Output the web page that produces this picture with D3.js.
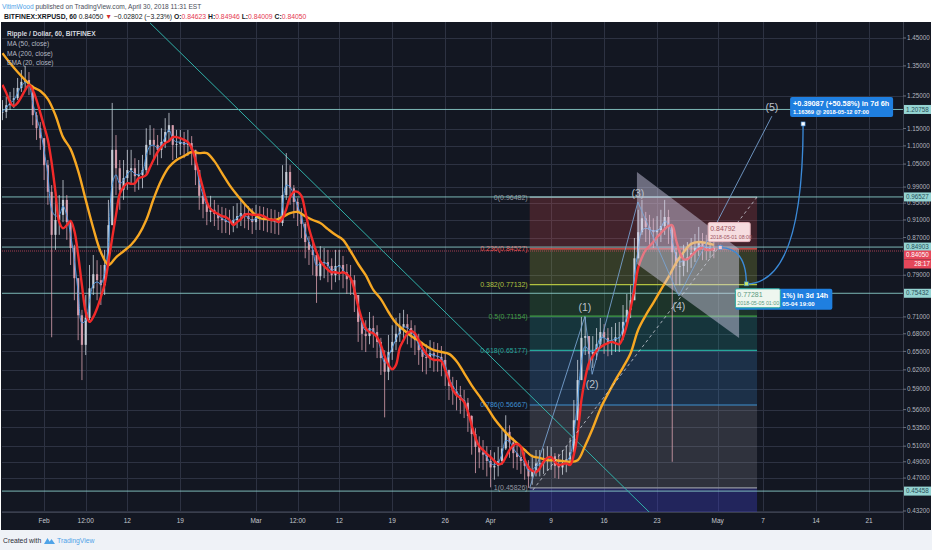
<!DOCTYPE html>
<html><head><meta charset="utf-8">
<script src="https://cdn.jsdelivr.net/npm/d3@7/dist/d3.min.js"></script>
<style>
html,body{margin:0;padding:0;background:#fff;}
svg{display:block;font-family:"Liberation Sans",Arial,sans-serif;}
</style></head><body>
<svg id="chart" width="932" height="550"></svg>
<script>
// ================= DATA =================
// 12-hour candles starting 2018-01-26 12:00 UTC
const candleStart = "2018-01-26T12:00:00Z";
const candleHours = 12;
const closes = [1.200,1.221,1.237,1.243,1.276,1.296,1.302,1.282,1.190,1.151,
1.122,1.047,0.978,0.876,0.910,0.922,0.958,0.905,0.847,0.784,
0.713,0.661,0.708,0.764,0.792,0.780,0.770,0.811,0.898,1.089,
1.039,0.983,1.013,1.034,1.039,1.018,1.021,1.034,1.103,1.117,
1.103,1.089,1.111,1.140,1.160,1.103,1.105,1.111,1.103,1.108,
1.089,1.034,0.968,0.948,0.929,0.934,0.924,0.914,0.910,0.905,
0.903,0.910,0.919,0.926,0.919,0.912,0.905,0.917,0.914,0.912,
0.910,0.908,0.905,0.903,0.970,1.029,0.987,0.953,0.926,0.901,
0.860,0.843,0.832,0.788,0.817,0.817,0.809,0.790,0.809,0.811,
0.796,0.782,0.780,0.751,0.701,0.680,0.676,0.690,0.683,0.666,
0.639,0.617,0.649,0.666,0.680,0.692,0.697,0.690,0.680,0.669,
0.652,0.641,0.639,0.647,0.642,0.641,0.636,0.620,0.595,0.587,
0.581,0.574,0.570,0.551,0.526,0.509,0.502,0.499,0.491,0.483,
0.485,0.491,0.507,0.529,0.515,0.501,0.496,0.491,0.485,0.472,
0.480,0.488,0.488,0.491,0.495,0.497,0.485,0.483,0.488,0.493,
0.502,0.545,0.604,0.673,0.676,0.646,0.649,0.662,0.683,0.673,
0.666,0.668,0.674,0.674,0.701,0.723,0.741,0.825,0.882,0.914,
0.894,0.887,0.882,0.887,0.896,0.917,0.896,0.838,0.809,0.809,
0.821,0.827,0.836,0.847,0.860,0.849,0.847,0.847,0.8405];
const highs = [1.237,1.247,1.263,1.276,1.309,1.336,1.350,1.329,1.286,1.200,
1.169,1.117,1.061,0.995,0.958,0.970,1.008,0.970,0.910,0.854,
0.780,0.723,0.751,0.811,0.832,0.821,0.811,0.843,0.958,1.228,
1.131,1.061,1.061,1.089,1.089,1.066,1.061,1.075,1.151,1.160,
1.151,1.131,1.151,1.181,1.197,1.151,1.146,1.146,1.140,1.146,
1.128,1.089,1.029,0.983,0.962,0.968,0.958,0.946,0.941,0.938,
0.934,0.943,0.950,0.958,0.950,0.943,0.938,0.946,0.943,0.941,
0.938,0.936,0.934,0.929,1.047,1.080,1.047,0.995,0.962,0.938,
0.905,0.873,0.865,0.832,0.851,0.847,0.843,0.825,0.843,0.843,
0.830,0.813,0.811,0.790,0.745,0.708,0.704,0.719,0.712,0.695,
0.673,0.652,0.678,0.695,0.708,0.717,0.723,0.715,0.704,0.695,
0.680,0.666,0.662,0.669,0.666,0.664,0.659,0.646,0.620,0.609,
0.604,0.595,0.589,0.577,0.552,0.534,0.523,0.518,0.510,0.505,
0.502,0.509,0.532,0.552,0.538,0.521,0.514,0.509,0.502,0.492,
0.499,0.505,0.505,0.507,0.510,0.509,0.501,0.500,0.505,0.510,
0.521,0.574,0.636,0.710,0.710,0.673,0.676,0.690,0.708,0.697,
0.690,0.692,0.699,0.701,0.732,0.753,0.770,0.869,0.934,0.958,
0.929,0.922,0.914,0.919,0.934,0.958,0.934,0.891,0.847,0.843,
0.854,0.860,0.869,0.878,0.894,0.880,0.876,0.873,0.865];
const lows = [1.175,1.181,1.206,1.212,1.237,1.263,1.269,1.253,1.160,1.117,
1.089,1.008,0.946,0.674,0.843,0.876,0.905,0.865,0.811,0.741,
0.669,0.604,0.644,0.704,0.751,0.741,0.732,0.751,0.811,0.934,
0.970,0.934,0.958,0.983,0.995,0.978,0.983,0.987,1.021,1.075,
1.061,1.047,1.066,1.094,1.111,1.061,1.066,1.075,1.066,1.072,
1.047,0.995,0.934,0.914,0.898,0.905,0.896,0.887,0.880,0.880,
0.876,0.882,0.891,0.896,0.891,0.887,0.878,0.887,0.887,0.885,
0.882,0.880,0.878,0.876,0.896,0.958,0.946,0.914,0.896,0.869,
0.825,0.811,0.790,0.736,0.780,0.784,0.776,0.761,0.776,0.780,
0.764,0.753,0.751,0.719,0.666,0.652,0.649,0.662,0.656,0.639,
0.612,0.549,0.604,0.636,0.652,0.666,0.669,0.662,0.656,0.644,
0.628,0.617,0.613,0.623,0.617,0.617,0.610,0.595,0.574,0.567,
0.559,0.554,0.548,0.529,0.499,0.476,0.482,0.480,0.472,0.459,
0.468,0.472,0.486,0.505,0.495,0.482,0.480,0.475,0.468,0.4583,
0.462,0.472,0.472,0.475,0.479,0.480,0.470,0.469,0.474,0.477,
0.485,0.499,0.545,0.628,0.644,0.620,0.623,0.636,0.656,0.646,
0.642,0.644,0.649,0.649,0.669,0.694,0.708,0.761,0.832,0.876,
0.860,0.854,0.847,0.851,0.860,0.876,0.856,0.490,0.770,0.770,
0.788,0.796,0.805,0.817,0.830,0.821,0.821,0.825,0.825];
// MA(50) read on the 12-hour grid
const ma50 = [1.286,1.260,1.231,1.218,1.228,1.247,1.269,1.286,1.269,1.237,
1.197,1.157,1.117,1.053,0.978,0.905,0.891,0.898,0.908,0.885,
0.832,0.770,0.719,0.701,0.710,0.726,0.747,0.772,0.817,0.869,
0.922,0.973,0.990,1.000,0.998,1.000,1.013,1.016,1.021,1.042,
1.063,1.083,1.097,1.108,1.114,1.125,1.125,1.122,1.117,1.111,
1.094,1.061,1.024,0.987,0.953,0.936,0.929,0.924,0.919,0.917,
0.910,0.898,0.905,0.912,0.922,0.924,0.922,0.922,0.922,0.919,
0.914,0.910,0.910,0.905,0.914,0.936,0.965,0.978,0.978,0.968,
0.931,0.891,0.862,0.838,0.819,0.809,0.801,0.796,0.796,0.794,
0.796,0.792,0.784,0.761,0.730,0.706,0.690,0.683,0.681,0.674,
0.661,0.642,0.628,0.621,0.628,0.656,0.669,0.681,0.685,0.681,
0.669,0.656,0.646,0.639,0.636,0.636,0.634,0.620,0.604,0.590,
0.581,0.577,0.571,0.557,0.538,0.521,0.510,0.505,0.500,0.496,
0.491,0.487,0.488,0.496,0.505,0.511,0.513,0.509,0.493,0.483,
0.479,0.477,0.482,0.490,0.495,0.496,0.490,0.486,0.487,0.488,
0.486,0.499,0.527,0.574,0.607,0.631,0.642,0.651,0.657,0.661,
0.664,0.666,0.664,0.662,0.674,0.695,0.726,0.761,0.805,0.827,
0.843,0.851,0.860,0.871,0.880,0.889,0.896,0.898,0.865,0.838,
0.823,0.823,0.830,0.838,0.845,0.847,0.843,0.843,0.845];
// MA(200) read every 24 hours from the first candle
const ma200 = [1.395,1.360,1.329,1.302,1.279,1.266,1.240,1.190,1.125,1.091,
1.032,0.958,0.891,0.838,0.811,0.827,0.840,0.854,0.876,0.910,
0.962,1.008,1.042,1.061,1.072,1.083,1.080,1.080,1.058,1.026,
0.995,0.970,0.948,0.929,0.914,0.912,0.910,0.917,0.926,0.929,
0.919,0.910,0.903,0.889,0.876,0.865,0.840,0.813,0.790,0.761,
0.743,0.719,0.699,0.687,0.676,0.668,0.659,0.652,0.649,0.646,
0.634,0.615,0.596,0.580,0.564,0.547,0.534,0.523,0.514,0.505,
0.497,0.495,0.492,0.492,0.491,0.490,0.492,0.511,0.534,0.561,
0.583,0.604,0.624,0.647,0.687,0.713,0.736,0.761,0.786,0.815,
0.838,0.856,0.860,0.858,0.854];

const priceTicks = [1.45,1.35,1.25,1.15,1.10,1.05,0.99,0.95,0.91,0.87,0.79,0.71,0.68,0.65,0.62,0.59,0.56,0.535,0.51,0.49,0.47,0.432];
const timeTickDates = ["2018-02-01T00:00Z","2018-02-06T12:00Z","2018-02-12T00:00Z","2018-02-19T00:00Z","2018-03-01T00:00Z","2018-03-06T12:00Z","2018-03-12T00:00Z","2018-03-19T00:00Z","2018-03-26T00:00Z","2018-04-01T00:00Z","2018-04-09T00:00Z","2018-04-16T00:00Z","2018-04-23T00:00Z","2018-05-01T00:00Z","2018-05-07T00:00Z","2018-05-14T00:00Z","2018-05-21T00:00Z"];
const timeTickLabels = ["Feb","12:00","12","19","Mar","12:00","12","19","26","Apr","9","16","23","May","7","14","21"];

const levelPrices = [1.20758,0.96527,0.84903,0.75432,0.45458];
const lastPrice = 0.84050;
const countdown = "28:17";

const fibRatios = [0,0.236,0.382,0.5,0.618,0.786,1,1.618];
const fibPrices = [0.96482,0.84527,0.77132,0.71154,0.65177,0.56667,0.45826,0.14521];
const fibColors = ["#9598a1","#ef5350","#b2c240","#43a047","#26a69a","#3f8fd0","#9598a1","#4040c8"];
const fibDates = ["2018-04-06T04:00Z","2018-05-06T05:00Z"];

const waveLabels = ["","(1)","(2)","(3)","(4)","(5)"];
const waveDates = ["2018-04-06T04:00Z","2018-04-13T11:00Z","2018-04-14T10:00Z","2018-04-20T11:00Z","2018-04-25T21:00Z","2018-05-08T04:00Z"];
const wavePrices = [0.4583,0.711,0.613,0.953,0.749,1.187];

const trendDates = ["2018-02-15T00:00Z","2018-04-20T08:00Z"];
const trendPrices = [1.507,0.4443];
const dashDates = ["2018-04-06T14:00Z","2018-05-06T05:00Z"];
const dashPrices = [0.4558,0.965];
const channelDates = ["2018-04-20T08:00Z","2018-05-03T20:00Z","2018-05-03T20:00Z","2018-04-20T08:00Z"];
const channelPrices = [1.029,0.8448,0.6726,0.8130];

const fcDates = ["2018-05-01T08:00Z","2018-05-04T19:00Z","2018-05-12T07:00Z"];
const fcPrices = [0.84792,0.77281,1.16369];

// ================= CHART =================
const svg = d3.select("#chart");
const P = {l:2, r:903, t:22, b:512};
const x = d3.scaleUtc().domain([new Date("2018-03-01T00:00Z"), new Date("2018-05-21T00:00Z")]).range([256,869]);
const y = d3.scaleLog().domain([0.432,1.45]).range([511,38]);
const t0 = new Date(candleStart).getTime();
const tAt = (i,step) => new Date(t0 + i*step*3600e3);
const D = s => new Date(s);

svg.append("rect").attr("width",932).attr("height",550).attr("fill","#ffffff");
svg.append("rect").attr("y",530).attr("width",932).attr("height",20).attr("fill","#eff2f7");
svg.append("rect").attr("x",1).attr("y",22).attr("width",930).attr("height",508).attr("fill","#131722");

svg.append("defs").append("clipPath").attr("id","clip").append("rect")
  .attr("x",P.l).attr("y",P.t).attr("width",P.r-P.l).attr("height",P.b-P.t);
const g = svg.append("g").attr("clip-path","url(#clip)");

// grid
const grid = g.append("g").attr("stroke","#2d3242").attr("stroke-width",1);
priceTicks.forEach(p => { const yy = Math.round(y(p))+0.5;
  grid.append("line").attr("x1",P.l).attr("x2",P.r).attr("y1",yy).attr("y2",yy); });
timeTickDates.forEach(d => { const xx = Math.round(x(D(d)))+0.5;
  grid.append("line").attr("x1",xx).attr("x2",xx).attr("y1",P.t).attr("y2",P.b); });

// fib zones & lines
const fx0 = x(D(fibDates[0])), fx1 = x(D(fibDates[1]));
for (let i=0;i<fibPrices.length-1;i++){
  const ya = y(fibPrices[i]), yb = Math.min(P.b, y(fibPrices[i+1]));
  g.append("rect").attr("x",fx0).attr("width",fx1-fx0).attr("y",ya).attr("height",yb-ya)
    .attr("fill",fibColors[i+1]).attr("fill-opacity", i===6?0.35:0.22);
}
for (let i=0;i<7;i++){
  const yy = y(fibPrices[i]);
  g.append("line").attr("x1",fx0).attr("x2",fx1).attr("y1",yy).attr("y2",yy)
    .attr("stroke",fibColors[i]).attr("stroke-width",1.2);
  g.append("text").attr("x",fx0-2).attr("y",yy).attr("dy","0.35em").attr("text-anchor","end")
    .attr("font-size",7).attr("fill",fibColors[i])
    .text(`${fibRatios[i]}(${fibPrices[i].toFixed(5)})`);
}

// horizontal rays
levelPrices.forEach(p => { const yy = y(p);
  g.append("line").attr("x1",P.l).attr("x2",P.r).attr("y1",yy).attr("y2",yy)
   .attr("stroke","#8fd3d0").attr("stroke-opacity",0.85).attr("stroke-width",1); });
g.append("line").attr("x1",P.l).attr("x2",P.r).attr("y1",y(lastPrice)).attr("y2",y(lastPrice))
  .attr("stroke","#c84a5e").attr("stroke-opacity",0.8).attr("stroke-width",1).attr("stroke-dasharray","1,1");

// descending trend line (extended)
{
  const ax=x(D(trendDates[0])), ay=y(trendPrices[0]), bx=x(D(trendDates[1])), by=y(trendPrices[1]);
  const k=(by-ay)/(bx-ax); const ex=ax+(P.b+5-ay)/k;
  g.append("line").attr("x1",ax).attr("y1",ay).attr("x2",ex).attr("y2",P.b+5)
    .attr("stroke","#30b0a8").attr("stroke-width",1);
}

// candles
const cg = g.append("g");
closes.forEach((c,i) => {
  const o = i ? closes[i-1] : c;
  const h = Math.max(highs[i],o,c), l = Math.min(lows[i],o,c);
  const xx = x(tAt(i,candleHours));
  const col = c>=o ? "#d3dae4" : "#e4a7b6";
  cg.append("line").attr("x1",xx).attr("x2",xx).attr("y1",y(h)).attr("y2",y(l))
    .attr("stroke",col).attr("stroke-width",0.9).attr("stroke-opacity",0.85);
  const yt=y(Math.max(o,c)), yb=y(Math.min(o,c));
  cg.append("rect").attr("x",xx-1.1).attr("width",2.2).attr("y",yt).attr("height",Math.max(0.8,yb-yt))
    .attr("fill",col).attr("fill-opacity",0.85);
});

// EMA(20) derived from closes
const ema=[]; closes.forEach((c,i)=>ema.push(i? ema[i-1]+0.6*(c-ema[i-1]) : c));
const lineGen = d3.line().curve(d3.curveCatmullRom.alpha(0.5));
g.append("path").attr("d", lineGen(ema.map((v,i)=>[x(tAt(i,candleHours)), y(v)])))
  .attr("fill","none").attr("stroke","#4d98e0").attr("stroke-width",1);
g.append("path").attr("d", lineGen(ma200.map((v,i)=>[x(tAt(i,24)), y(v)])))
  .attr("fill","none").attr("stroke","#f7a823").attr("stroke-width",2.4);
g.append("path").attr("d", lineGen(ma50.map((v,i)=>[x(tAt(i,candleHours)), y(v)])))
  .attr("fill","none").attr("stroke","#f22a2a").attr("stroke-width",2.4);

// channel polygon
g.append("polygon").attr("points", channelDates.map((d,i)=>[x(D(d)),y(channelPrices[i])].join(",")).join(" "))
  .attr("fill","#d6d2ee").attr("fill-opacity",0.45);

// wave lines
g.append("path").attr("d", d3.line()(waveDates.map((d,i)=>[x(D(d)),y(wavePrices[i])])))
  .attr("fill","none").attr("stroke","#7aa6d6").attr("stroke-width",1).attr("stroke-opacity",0.85);
g.append("line").attr("x1",x(D(dashDates[0]))).attr("y1",y(dashPrices[0]))
  .attr("x2",x(D(dashDates[1]))).attr("y2",y(dashPrices[1]))
  .attr("stroke","#c8ccd6").attr("stroke-width",1).attr("stroke-dasharray","3,3").attr("stroke-opacity",0.8);
waveLabels.forEach((lab,i)=>{ if(!lab) return;
  const up = i%2===1;
  g.append("text").attr("x",x(D(waveDates[i]))).attr("y",y(wavePrices[i])+(up?-5:14))
    .attr("text-anchor","middle").attr("font-size",10.5).attr("fill","#bcc0cb").text(lab); });

// forecast curves
const fx = fcDates.map(d=>x(D(d))), fy = fcPrices.map(p=>y(p));
for (let i=0;i<2;i++){
  g.append("path").attr("d",`M${fx[i]},${fy[i]} Q${fx[i+1]},${fy[i]} ${fx[i+1]},${fy[i+1]}`)
    .attr("fill","none").attr("stroke","#3b8ad8").attr("stroke-width",1.4);
}
// target label 1 (blue, partly covered by the next source label)
g.append("rect").attr("x",fx[1]-11).attr("y",fy[1]+5).attr("width",97).attr("height",21).attr("rx",2).attr("fill","#1f7fe0");
g.append("text").attr("x",fx[1]+36).attr("y",fy[1]+14).attr("font-size",7.2).attr("font-weight","bold").attr("fill","#fff").text("1%) in 3d 14h");
g.append("text").attr("x",fx[1]+36).attr("y",fy[1]+22).attr("font-size",6).attr("font-weight","bold").attr("fill","#fff").text("05-04  19:00");
// source label 2 (white/green)
g.append("rect").attr("x",fx[1]-11).attr("y",fy[1]+5).attr("width",45).attr("height",19).attr("rx",1.5).attr("fill","#eef6ef").attr("stroke","#26a69a").attr("stroke-width",1);
g.append("text").attr("x",fx[1]-9).attr("y",fy[1]+13).attr("font-size",7).attr("fill","#5a9a80").text("0.77281");
g.append("text").attr("x",fx[1]-9).attr("y",fy[1]+21).attr("font-size",5.3).attr("fill","#5a9a80").text("2018-05-05 01:00");
// source label 1 (pink)
g.append("rect").attr("x",fx[0]-12).attr("y",fy[0]-25).attr("width",42).attr("height",19).attr("rx",1.5).attr("fill","#f6dde0").attr("stroke","#e8b8c0");
g.append("text").attr("x",fx[0]-10).attr("y",fy[0]-17).attr("font-size",7).attr("fill","#a05560").text("0.84792");
g.append("text").attr("x",fx[0]-10).attr("y",fy[0]-9).attr("font-size",5.3).attr("fill","#a05560").text("2018-05-01 08:00");
// target label 2 (blue)
g.append("rect").attr("x",fx[2]-13).attr("y",fy[2]-27).attr("width",103).attr("height",20).attr("rx",2).attr("fill","#1f7fe0");
g.append("text").attr("x",fx[2]-10).attr("y",fy[2]-18).attr("font-size",7.3).attr("font-weight","bold").attr("fill","#fff").text("+0.39087 (+50.58%) in 7d 6h");
g.append("text").attr("x",fx[2]-10).attr("y",fy[2]-10).attr("font-size",5.8).attr("font-weight","bold").attr("fill","#fff").text("1.16369 @ 2018-05-12 07:00");
// markers
[[0,"#f4c6d0"],[1,"#c8e86a"],[2,"#ffffff"]].forEach(([i,c])=>
  g.append("rect").attr("x",fx[i]-2).attr("y",fy[i]-2).attr("width",4).attr("height",4).attr("fill",c).attr("stroke","#3b8ad8").attr("stroke-width",0.6));

// legend
const lg = svg.append("g").attr("font-size",6.6).attr("fill","#b4b8c2");
lg.append("text").attr("x",7).attr("y",36).attr("font-weight","bold").attr("fill","#d1d4dc").text("Ripple / Dollar, 60, BITFINEX");
["MA (50, close)","MA (200, close)","EMA (20, close)"].forEach((t,i)=>lg.append("text").attr("x",7).attr("y",46+i*9.7).text(t));

// axes frame
svg.append("line").attr("x1",P.r+0.5).attr("x2",P.r+0.5).attr("y1",P.t).attr("y2",530).attr("stroke","#3a3f4d");
svg.append("line").attr("x1",P.l).attr("x2",P.r).attr("y1",P.b+0.5).attr("y2",P.b+0.5).attr("stroke","#3a3f4d");

// price axis
const pa = svg.append("g").attr("font-size",6.3);
priceTicks.forEach(p=>{ const yy=y(p);
  pa.append("line").attr("x1",P.r).attr("x2",P.r+3).attr("y1",yy).attr("y2",yy).attr("stroke","#6a6e7a");
  pa.append("text").attr("x",P.r+4).attr("y",yy).attr("dy","0.35em").attr("fill","#b2b5be").text(p.toFixed(5)); });
levelPrices.forEach(p=>{ const yy=y(p);
  pa.append("rect").attr("x",P.r+1).attr("y",yy-4.5).attr("width",27).attr("height",9).attr("fill","#95d4d2");
  pa.append("text").attr("x",P.r+3).attr("y",yy).attr("dy","0.35em").attr("fill","#28505a").text(p.toFixed(5)); });
{ const yy=y(lastPrice)+4;
  pa.append("rect").attr("x",P.r+1).attr("y",yy-4.5).attr("width",27).attr("height",9).attr("fill","#e5475a");
  pa.append("text").attr("x",P.r+3).attr("y",yy).attr("dy","0.35em").attr("fill","#fff").text(lastPrice.toFixed(5));
  pa.append("rect").attr("x",P.r+1).attr("y",yy+4.5).attr("width",27).attr("height",9).attr("fill","#e5475a");
  pa.append("text").attr("x",P.r+27).attr("y",yy+9).attr("dy","0.35em").attr("text-anchor","end").attr("fill","#fff").text(countdown); }

// time axis
const ta = svg.append("g").attr("font-size",6.5).attr("fill","#c4c7cf").attr("text-anchor","middle");
timeTickDates.forEach((d,i)=>ta.append("text").attr("x",x(D(d))).attr("y",523).text(timeTickLabels[i]));

// header
const h1 = svg.append("text").attr("x",2).attr("y",8.5).attr("font-size",6.6).attr("fill","#4a4e5a");
h1.append("tspan").attr("fill","#4fa3e8").text("VitimWood");
h1.append("tspan").text(" published on TradingView.com, April 30, 2018 11:31 EST");
const h2 = svg.append("text").attr("x",4).attr("y",18.5).attr("font-size",6.8).attr("fill","#131722");
[["BITFINEX:XRPUSD, 60 ","#131722","bold"],["0.84050 ","#131722","normal"],["▼ ","#d32f2f","normal"],
 ["−0.02802 (−3.23%) ","#131722","normal"],["O:","#131722","bold"],["0.84623 ","#e53950","normal"],
 ["H:","#131722","bold"],["0.84946 ","#e53950","normal"],["L:","#131722","bold"],["0.84009 ","#e53950","normal"],
 ["C:","#131722","bold"],["0.84050","#e53950","normal"]]
 .forEach(([t,c,w])=>h2.append("tspan").attr("fill",c).attr("font-weight",w).text(t));
h2.attr("xml:space","preserve").style("white-space","pre");

// footer
svg.append("text").attr("x",3).attr("y",543).attr("font-size",6.8).attr("fill","#2a2e39").text("Created with");
svg.append("path").attr("d","M44,544 L47.5,538 L51,544 Z M48,544 L51.5,539 L55,544 Z").attr("fill","#4fa3e8");
svg.append("text").attr("x",57).attr("y",543).attr("font-size",6.8).attr("fill","#4fa3e8").text("TradingView");
</script>
</body></html>
